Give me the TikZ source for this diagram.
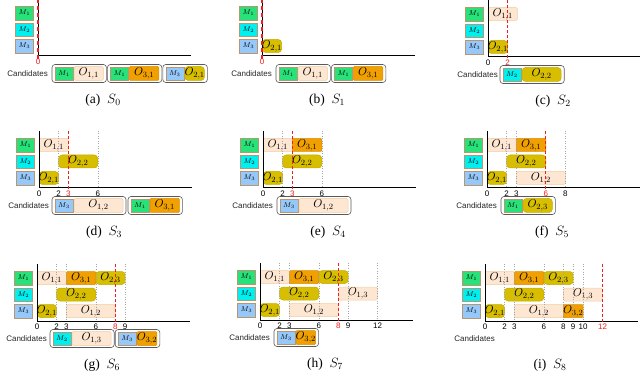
\documentclass[tikz,border=0pt]{standalone}
\usepackage{fix-cm}
\usepackage{fontspec}
\setmainfont{Liberation Serif}
\setsansfont{Liberation Sans}
\usepackage{xcolor}
\usepackage{tikz}
\usetikzlibrary{positioning,calc}

\definecolor{cmone}{RGB}{40,225,120}
\definecolor{cmtwo}{RGB}{0,240,240}
\definecolor{cmthree}{RGB}{150,200,250}
\definecolor{cmedge}{RGB}{185,150,110}
\definecolor{cpeach}{RGB}{253,230,210}
\definecolor{cpeachd}{RGB}{243,205,160}
\definecolor{colive}{RGB}{215,190,0}
\definecolor{colived}{RGB}{195,170,0}
\definecolor{corange}{RGB}{240,160,0}
\definecolor{coranged}{RGB}{220,140,0}
\definecolor{cnow}{RGB}{240,30,30}

\newcommand{\tunit}{9.8}

%% ── machine labels, axes and the Candidates text ─────
\newcommand{\ganttaxes}[1]{%
  \draw[axisline] (0,-57) -- (0,0) -- (153,0);
  \node[mlab, fill=cmone]   (#1-m1) at (-13.5,-43)   {$M_1$};
  \node[mlab, fill=cmtwo]   (#1-m2) at (-13.5,-26.5) {$M_2$};
  \node[mlab, fill=cmthree] (#1-m3) at (-13.5,-10)   {$M_3$};
  \node[candlab, anchor=east] (#1-cand) at (10,17.5) {Candidates};
}
%% ── one scheduled operation: name, style, row, start, end, label
\newcommand{\opbar}[6]{%
  \draw[#2] ({#4*\tunit},{#3-6.5}) rectangle ({#5*\tunit},{#3+6.5});
  \node[oplab] (#1) at ({(#4+#5)*\tunit/2},#3) {$O_{#6}$};
}
%% ── one candidate pair: name, x, colour, machine, style, length, label
\newcommand{\candbox}[7]{%
  \draw[candframe] (#2,8.5) rectangle ({#2+25+#6*\tunit},26.5);
  \node[mlab, fill=#3] (#1m) at ({#2+12},17.5) {$M_{#4}$};
  \draw[#5] ({#2+22},10.5) rectangle ({#2+22+#6*\tunit},24.5);
  \node[oplab] (#1o) at ({#2+22+#6*\tunit/2},17.5) {$O_{#7}$};
}
%% ── dotted time marks with their numbers ─────────────
\newcommand{\tickmarks}[2]{%
  \foreach \t in {#2}{
    \draw[dotline] ({\t*\tunit},-57) -- ({\t*\tunit},0);
    \node[ticklab] (#1-t\t) at ({\t*\tunit},5.5) {\t};
  }
}
%% ── red dashed line at the current time ──────────────
\newcommand{\nowline}[3]{%
  \draw[redcut, #3] ({#2*\tunit},-57) -- ({#2*\tunit},3);
  \node[ticklab, text=cnow] (#1-now) at ({#2*\tunit},5.5) {#2};
}

\begin{document}
\begin{tikzpicture}[
    x=1pt, y=-1pt,
    axisline/.style={black, line width=1pt},
    mlab/.style={
        draw=cmedge, rectangle,
        minimum width=18pt,
        minimum height=13.5pt,
        inner sep=0pt,
        font=\fontsize{7}{8}\selectfont
    },
    oplab/.style={inner sep=0pt, font=\fontsize{11.5}{12}\selectfont},
    opone/.style={fill=cpeach, draw=cpeachd, line width=0.5pt, rounded corners=1.5pt},
    optwo/.style={fill=colive, draw=colived, line width=0.5pt, rounded corners=3.5pt},
    opthree/.style={fill=corange, draw=coranged, line width=0.5pt, rounded corners=1pt},
    candframe/.style={draw=gray!70!black, line width=0.6pt, rounded corners=3pt},
    candlab/.style={font=\sffamily\fontsize{8}{9}\selectfont, text=black!85, inner sep=0pt},
    ticklab/.style={font=\sffamily\fontsize{8}{9}\selectfont, inner sep=0pt},
    dotline/.style={gray!70, dotted, line width=0.5pt},
    redcut/.style={draw=cnow, dashed, line width=1.3pt, dash pattern=on 3pt off 2pt},
    capt/.style={font=\fontsize{13.5}{15}\selectfont}
]
\useasboundingbox (0,0) rectangle (640,374);

%% ── (a) S_0 ───────────────────────────────────────────
\begin{scope}[shift={(38,56)}]
  \ganttaxes{a}
  \nowline{a}{0}{line width=1.8pt, dash pattern=on 4pt off 3pt}
  \candbox{a-c1}{14}{cmone}{1}{opone}{3}{1,1}
  \candbox{a-c2}{69.4}{cmone}{1}{opthree}{3}{3,1}
  \candbox{a-c3}{124.8}{cmthree}{3}{optwo}{2}{2,1}
  \node[capt] (a-cap) at (65,44) {(a)\ \ $S_0$};
\end{scope}

%% ── (b) S_1 ───────────────────────────────────────────
\begin{scope}[shift={(262,56)}]
  \opbar{b-o21}{optwo}{-10}{0}{2}{2,1}
  \ganttaxes{b}
  \nowline{b}{0}{line width=1.8pt, dash pattern=on 4pt off 3pt}
  \candbox{b-c1}{14}{cmone}{1}{opone}{3}{1,1}
  \candbox{b-c2}{69.4}{cmone}{1}{opthree}{3}{3,1}
  \node[capt] (b-cap) at (65,44) {(b)\ \ $S_1$};
\end{scope}

%% ── (c) S_2 ───────────────────────────────────────────
\begin{scope}[shift={(488,57)}]
  \opbar{c-o11}{opone}{-43}{0}{3}{1,1}
  \opbar{c-o21}{optwo}{-10}{0}{2}{2,1}
  \ganttaxes{c}
  \node[ticklab] (c-t0) at (0,5.5) {0};
  \nowline{c}{2}{}
  \candbox{c-c1}{12}{cmtwo}{2}{optwo}{4}{2,2}
  \node[capt] (c-cap) at (65,44) {(c)\ \ $S_2$};
\end{scope}

%% ── (d) S_3 ───────────────────────────────────────────
\begin{scope}[shift={(39,188)}]
  \opbar{d-o11}{opone}{-43}{0}{3}{1,1}
  \opbar{d-o22}{optwo}{-26.5}{2}{6}{2,2}
  \opbar{d-o21}{optwo}{-10}{0}{2}{2,1}
  \ganttaxes{d}
  \node[ticklab] (d-t0) at (0,5.5) {0};
  \tickmarks{d}{2,6}
  \nowline{d}{3}{}
  \candbox{d-c1}{13}{cmthree}{3}{opone}{5}{1,2}
  \candbox{d-c2}{89}{cmone}{1}{opthree}{3}{3,1}
  \node[capt] (d-cap) at (65,44) {(d)\ \ $S_3$};
\end{scope}

%% ── (e) S_4 ───────────────────────────────────────────
\begin{scope}[shift={(263,188)}]
  \opbar{e-o11}{opone}{-43}{0}{3}{1,1}
  \opbar{e-o31}{opthree}{-43}{3}{6}{3,1}
  \opbar{e-o22}{optwo}{-26.5}{2}{6}{2,2}
  \opbar{e-o21}{optwo}{-10}{0}{2}{2,1}
  \ganttaxes{e}
  \node[ticklab] (e-t0) at (0,5.5) {0};
  \tickmarks{e}{2,6}
  \nowline{e}{3}{}
  \candbox{e-c1}{14}{cmthree}{3}{opone}{5}{1,2}
  \node[capt] (e-cap) at (65,44) {(e)\ \ $S_4$};
\end{scope}

%% ── (f) S_5 ───────────────────────────────────────────
\begin{scope}[shift={(487,188)}]
  \opbar{f-o11}{opone}{-43}{0}{3}{1,1}
  \opbar{f-o31}{opthree}{-43}{3}{6}{3,1}
  \opbar{f-o22}{optwo}{-26.5}{2}{6}{2,2}
  \opbar{f-o21}{optwo}{-10}{0}{2}{2,1}
  \opbar{f-o12}{opone}{-10}{3}{8}{1,2}
  \ganttaxes{f}
  \node[ticklab] (f-t0) at (0,5.5) {0};
  \tickmarks{f}{2,3,8}
  \nowline{f}{6}{}
  \candbox{f-c1}{14}{cmone}{1}{optwo}{3}{2,3}
  \node[capt] (f-cap) at (65,44) {(f)\ \ $S_5$};
\end{scope}

%% ── (g) S_6 ───────────────────────────────────────────
\begin{scope}[shift={(37,321)}]
  \opbar{g-o11}{opone}{-43}{0}{3}{1,1}
  \opbar{g-o31}{opthree}{-43}{3}{6}{3,1}
  \opbar{g-o23}{optwo}{-43}{6}{9}{2,3}
  \opbar{g-o22}{optwo}{-26.5}{2}{6}{2,2}
  \opbar{g-o21}{optwo}{-10}{0}{2}{2,1}
  \opbar{g-o12}{opone}{-10}{3}{8}{1,2}
  \ganttaxes{g}
  \node[ticklab] (g-t0) at (0,5.5) {0};
  \tickmarks{g}{2,3,6,9}
  \nowline{g}{8}{}
  \candbox{g-c1}{13}{cmtwo}{2}{opone}{4}{1,3}
  \candbox{g-c2}{78.2}{cmthree}{3}{opthree}{2}{3,2}
  \node[capt] (g-cap) at (65,44) {(g)\ \ $S_6$};
\end{scope}

%% ── (h) S_7 ───────────────────────────────────────────
\begin{scope}[shift={(260,320)}]
  \opbar{h-o11}{opone}{-43}{0}{3}{1,1}
  \opbar{h-o31}{opthree}{-43}{3}{6}{3,1}
  \opbar{h-o23}{optwo}{-43}{6}{9}{2,3}
  \opbar{h-o22}{optwo}{-26.5}{2}{6}{2,2}
  \opbar{h-o13}{opone}{-26.5}{8}{12}{1,3}
  \opbar{h-o21}{optwo}{-10}{0}{2}{2,1}
  \opbar{h-o12}{opone}{-10}{3}{8}{1,2}
  \ganttaxes{h}
  \node[ticklab] (h-t0) at (0,5.5) {0};
  \tickmarks{h}{2,3,6,9,12}
  \nowline{h}{8}{}
  \candbox{h-c1}{14}{cmthree}{3}{opthree}{2}{3,2}
  \node[capt] (h-cap) at (65,44) {(h)\ \ $S_7$};
\end{scope}

%% ── (i) S_8 ───────────────────────────────────────────
\begin{scope}[shift={(485,321)}]
  \opbar{i-o11}{opone}{-43}{0}{3}{1,1}
  \opbar{i-o31}{opthree}{-43}{3}{6}{3,1}
  \opbar{i-o23}{optwo}{-43}{6}{9}{2,3}
  \opbar{i-o22}{optwo}{-26.5}{2}{6}{2,2}
  \opbar{i-o13}{opone}{-26.5}{8}{12}{1,3}
  \opbar{i-o21}{optwo}{-10}{0}{2}{2,1}
  \opbar{i-o12}{opone}{-10}{3}{8}{1,2}
  \opbar{i-o32}{opthree}{-10}{8}{10}{3,2}
  \ganttaxes{i}
  \node[ticklab] (i-t0) at (0,5.5) {0};
  \tickmarks{i}{2,3,6,8,9,10}
  \nowline{i}{12}{}
  \node[capt] (i-cap) at (65,44) {(i)\ \ $S_8$};
\end{scope}

\end{tikzpicture}
\end{document}
